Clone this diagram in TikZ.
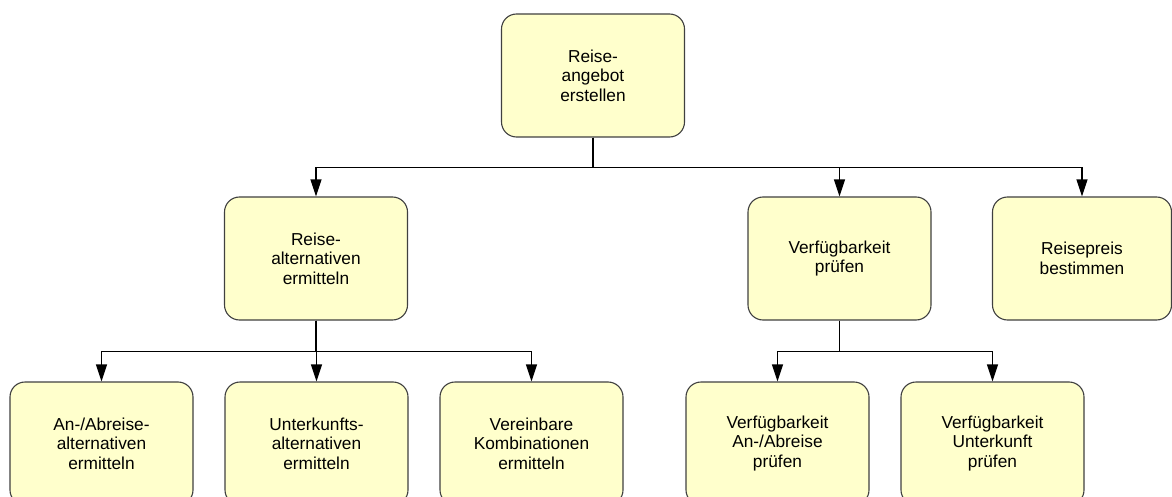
\documentclass[tikz,border=0pt]{standalone}
\usepackage{fontspec}
\setmainfont{Liberation Sans}
\usetikzlibrary{arrows.meta}
\definecolor{hellgelb}{HTML}{FFFFCC}
\begin{document}
\begin{tikzpicture}[x=1pt,y=-1pt]
\tikzset{kasten/.style={draw=black!75, fill=hellgelb, line width=1.1pt, rounded corners=15pt, minimum width=183pt, minimum height=123pt, inner sep=0pt, align=center, font=\fontsize{17.3}{19.5}\selectfont}}
\tikzset{pfeil/.style={-{Triangle[length=17pt,width=11pt]}, line width=1.2pt}}
\useasboundingbox (0,0) rectangle (1172,497);
\clip (0,0) rectangle (1172,497);
\node[kasten] (A0) at (593,75.5) {Reise-\\angebot\\erstellen};
\node[kasten] (A1) at (316,258.5) {Reise-\\alternativen\\ermitteln};
\node[kasten] (A2) at (839.5,258.5) {Verfügbarkeit\\prüfen};
\node[kasten, minimum width=179pt] (A3) at (1082,258.5) {Reisepreis\\bestimmen};
\node[kasten] (A11) at (101.5,443.5) {An-/Abreise-\\alternativen\\ermitteln};
\node[kasten] (A12) at (316.5,443.5) {Unterkunfts-\\alternativen\\ermitteln};
\node[kasten] (A13) at (531.5,443.5) {Vereinbare\\Kombinationen\\ermitteln};
\node[kasten] (A21) at (777.5,443.5) {Verfügbarkeit\\An-/Abreise\\prüfen};
\node[kasten] (A22) at (992.5,443.5) {Verfügbarkeit\\Unterkunft\\prüfen};
\draw[pfeil] (A0.south) -- ++(0,30) -| (A1.north);
\draw[pfeil] (A0.south) -- ++(0,30) -| (A2.north);
\draw[pfeil] (A0.south) -- ++(0,30) -| (A3.north);
\draw[pfeil] (A1.south) -- ++(0,31) -| (A11.north);
\draw[pfeil] (A1.south) -- ++(0,31) -| (A12.north);
\draw[pfeil] (A1.south) -- ++(0,31) -| (A13.north);
\draw[pfeil] (A2.south) -- ++(0,31) -| (A21.north);
\draw[pfeil] (A2.south) -- ++(0,31) -| (A22.north);
\end{tikzpicture}
\end{document}
